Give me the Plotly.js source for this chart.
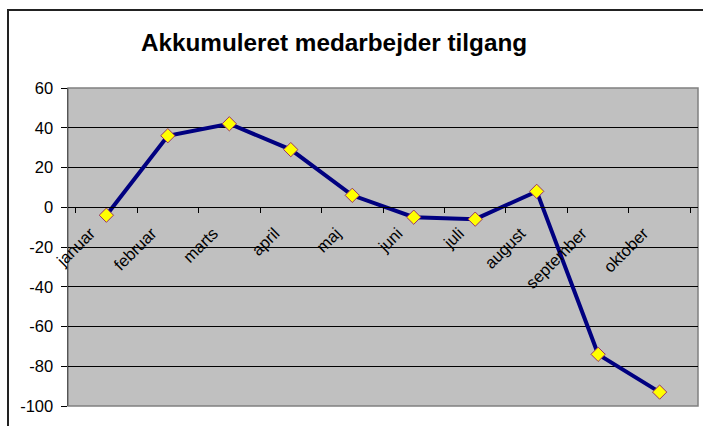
<!DOCTYPE html>
<html>
<head>
<meta charset="utf-8">
<script src="https://cdn.plot.ly/plotly-3.0.1.min.js"></script>
<style>
  html, body { margin: 0; padding: 0; background: #fff; }
  #chart { width: 703px; height: 426px; }
</style>
</head>
<body>
<div id="chart"></div>
<script>
// data
const months = ['januar', 'februar', 'marts', 'april', 'maj', 'juni', 'juli', 'august', 'september', 'oktober'];
const tilgang = [-4, 36, 42, 29, 6, -5, -6, 8, -74, -93];
const yTicks = [-100, -80, -60, -40, -20, 0, 20, 40, 60];

const FONT = 'Liberation Sans, Arial, sans-serif';

const line = {
    x: months,
    y: tilgang,
    type: 'scatter',
    mode: 'lines+markers',
    line: { color: '#000080', width: 4 },
    marker: {
        symbol: 'diamond',
        size: 11,
        color: '#FFFF00',
        line: { color: '#993366', width: 1 }
    },
    hoverinfo: 'none',
    cliponaxis: false
};

// pixel helpers for the frame around the whole chart
const L = 68, R = 5, T = 88, B = 20;
const W = 703 - L - R, H = 426 - T - B;
const px = v => (v - L) / W;
const py = v => (426 - B - v) / H;

const layout = {
    width: 703,
    height: 426,
    margin: { l: L, r: R, t: T, b: B },
    paper_bgcolor: '#ffffff',
    plot_bgcolor: '#C0C0C0',
    showlegend: false,
    title: {
        text: '<b>Akkumuleret medarbejder tilgang</b>',
        font: { family: FONT, size: 24.3, color: '#000' },
        xref: 'container', yref: 'container',
        x: 334 / 703, xanchor: 'center',
        y: 1 - 42 / 426, yanchor: 'middle'
    },
    xaxis: {
        type: 'category',
        anchor: 'free',
        position: 100 / 160,   // x axis crosses at y = 0
        showline: true,
        linecolor: '#000',
        linewidth: 1,
        showgrid: false,
        zeroline: false,
        ticks: 'outside',
        tickson: 'boundaries',
        ticklen: 5,
        tickcolor: '#000',
        tickangle: -45,
        ticklabelshift: -16,
        ticklabelstandoff: 9,
        tickfont: { family: FONT, size: 16.5, color: '#000' },
        fixedrange: true
    },
    yaxis: {
        range: [-100, 60],
        tickvals: yTicks,
        ticktext: yTicks.map(String),
        showgrid: true,
        gridcolor: '#000',
        gridwidth: 1,
        zeroline: true,
        zerolinecolor: '#000',
        zerolinewidth: 1,
        showline: true,
        linecolor: '#555',
        linewidth: 1.5,
        ticks: 'outside',
        ticklen: 6,
        tickcolor: '#000',
        ticklabelstandoff: 4,
        tickfont: { family: FONT, size: 16.5, color: '#000' },
        fixedrange: true
    },
    shapes: [
        // plot area border
        {
            type: 'rect', xref: 'paper', yref: 'paper',
            x0: 0, x1: 1, y0: 0, y1: 1,
            line: { color: '#808080', width: 1.5 },
            layer: 'below'
        },
        // chart area frame (cropped at right and bottom)
        {
            type: 'rect', xref: 'paper', yref: 'paper',
            x0: px(8), x1: px(760), y0: py(480), y1: py(10),
            line: { color: '#222', width: 2 }
        }
    ]
};

Plotly.newPlot('chart', [line], layout, { displayModeBar: false, staticPlot: true });
</script>
</body>
</html>
